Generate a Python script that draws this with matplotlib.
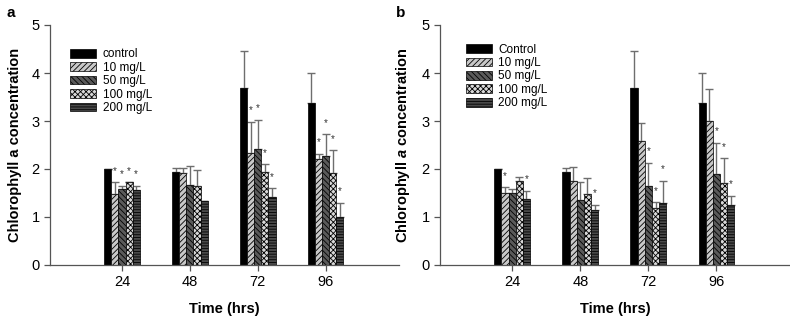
import matplotlib
matplotlib.use("Agg")
import matplotlib.pyplot as plt
import numpy as np

plt.rcParams['font.family'] = ['Liberation Sans', 'DejaVu Sans']
plt.rcParams['mathtext.fontset'] = 'custom'
plt.rcParams['mathtext.it'] = 'Liberation Sans:italic:bold'
plt.rcParams['mathtext.rm'] = 'Liberation Sans:bold'
plt.rcParams['hatch.linewidth'] = 0.6

times = ['24', '48', '72', '96']
labels_a = ['control', '10 mg/L', '50 mg/L', '100 mg/L', '200 mg/L']
labels_b = ['Control', '10 mg/L', '50 mg/L', '100 mg/L', '200 mg/L']

# Panel a: means and upper error
a_means = {
    'control': [2.01, 1.94, 3.68, 3.38],
    '10': [1.48, 1.91, 2.33, 2.21],
    '50': [1.58, 1.67, 2.42, 2.28],
    '100': [1.72, 1.65, 1.93, 1.91],
    '200': [1.56, 1.33, 1.42, 1.01],
}
a_errs = {
    'control': [0.00, 0.09, 0.78, 0.61],
    '10': [0.24, 0.12, 0.65, 0.11],
    '50': [0.07, 0.39, 0.61, 0.44],
    '100': [0.00, 0.33, 0.17, 0.48],
    '200': [0.09, 0.00, 0.18, 0.29],
}
a_sig = {
    'control': [0, 0, 0, 0],
    '10': [1, 0, 1, 1],
    '50': [1, 0, 1, 1],
    '100': [1, 0, 1, 1],
    '200': [1, 0, 1, 1],
}

# Panel b
b_means = {
    'control': [2.01, 1.94, 3.68, 3.38],
    '10': [1.49, 1.76, 2.59, 2.99],
    '50': [1.49, 1.35, 1.65, 1.89],
    '100': [1.75, 1.47, 1.18, 1.70],
    '200': [1.38, 1.15, 1.30, 1.25],
}
b_errs = {
    'control': [0.00, 0.09, 0.78, 0.61],
    '10': [0.13, 0.29, 0.36, 0.68],
    '50': [0.10, 0.37, 0.48, 0.65],
    '100': [0.08, 0.35, 0.13, 0.52],
    '200': [0.17, 0.11, 0.46, 0.19],
}
b_sig = {
    'control': [0, 0, 0, 0],
    '10': [1, 0, 0, 0],
    '50': [0, 0, 1, 1],
    '100': [0, 0, 1, 1],
    '200': [1, 1, 1, 1],
}

keys = ['control', '10', '50', '100', '200']
styles = [
    dict(color='black', hatch=None),
    dict(color='#c8c8c8', hatch='//////'),
    dict(color='#5a5a5a', hatch='\\\\\\\\\\\\'),
    dict(color='#d8d8d8', hatch='xxxxxx'),
    dict(color='#4a4a4a', hatch='------'),
]

fig = plt.figure(figsize=(7.9, 3.22), dpi=100)
ax_a = fig.add_axes([50/790, 57/322, 349/790, 240/322])
ax_b = fig.add_axes([440/790, 57/322, 350/790, 240/322])

bw = 0.105
x = np.arange(len(times))


def draw(ax, means, errs, sig, labels, ylabel, letter, leg_anchor):
    for i, k in enumerate(keys):
        pos = x + (i - 2) * bw
        st = styles[i]
        ax.bar(pos, means[k], bw, color=st['color'], hatch=st['hatch'],
               edgecolor='black', linewidth=0.5, label=labels[i], zorder=2)
        ax.errorbar(pos, means[k], yerr=[np.zeros(4), errs[k]], fmt='none',
                    ecolor='#6e6e6e', elinewidth=1.0, capsize=3.2, capthick=1.0, zorder=1)
        for j in range(4):
            if sig[k][j]:
                ax.text(pos[j], means[k][j] + errs[k][j] + 0.24, '*', ha='center',
                        va='center', fontsize=7, color='#333333')
    ax.set_xlim(-1.06, 4.08)
    ax.set_ylim(0, 5)
    ax.set_xticks(x)
    ax.set_xticklabels(times, fontsize=10.5)
    ax.set_yticks(range(6))
    ax.set_yticklabels([str(v) for v in range(6)], fontsize=10.5)
    for s in ['top', 'right']:
        ax.spines[s].set_visible(False)
    for s in ['left', 'bottom']:
        ax.spines[s].set_color('#555555')
        ax.spines[s].set_linewidth(0.9)
    ax.tick_params(axis='both', direction='out', length=4, color='#555555', width=0.9)
    ax.set_xlabel('Time (hrs)', fontsize=10.5, fontweight='bold', labelpad=9)
    ax.set_ylabel(ylabel, fontsize=10.5, fontweight='bold', labelpad=7)
    ax.legend(loc='upper left', bbox_to_anchor=leg_anchor, frameon=False,
              fontsize=8.5, handlelength=2.2, handleheight=0.75,
              labelspacing=0.12, handletextpad=0.55, borderaxespad=0)
    ax.text(-0.10, 1.02, letter, transform=ax.transAxes, fontsize=11,
            fontweight='bold', va='bottom', ha='right')


draw(ax_a, a_means, a_errs, a_sig, labels_a, 'Chlorophyll a concentration', 'a', (0.045, 0.922))
draw(ax_b, b_means, b_errs, b_sig, labels_b, r'Chlorophyll $\it{a}$ concentration', 'b', (0.06, 0.942))

fig.savefig('out.png', dpi=100)
